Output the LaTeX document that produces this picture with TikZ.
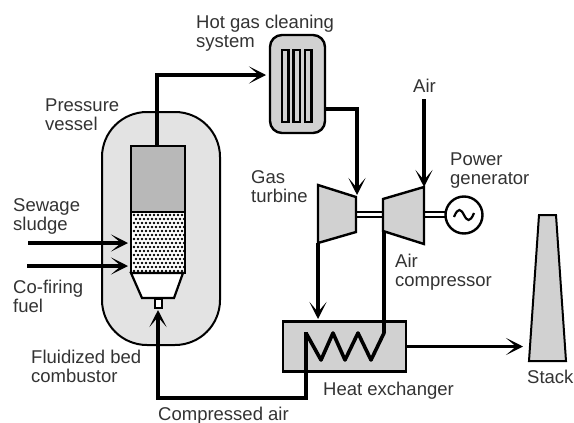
\documentclass[tikz,border=0pt]{standalone}
\usepackage{fontspec}
\setmainfont{Liberation Sans}
\usepackage{tikz}
\usetikzlibrary{arrows.meta}
\definecolor{vesselgray}{gray}{0.89}
\definecolor{unitgray}{gray}{0.82}
\definecolor{freegray}{gray}{0.72}
\definecolor{inkgray}{gray}{0.2}
\tikzset{
    pipe/.style={line width=3.6pt,black,line join=miter},
    flow/.style={pipe,-{Stealth[length=17pt,width=17pt,inset=10pt]}},
    unit/.style={line width=2.4pt,draw=black,fill=unitgray},
    label/.style={font=\fontsize{18.5}{19}\selectfont,text=inkgray,align=left,inner sep=0pt,anchor=north west}
}
\begin{document}
\begin{tikzpicture}[x=1pt,y=-1pt]
\useasboundingbox[fill=white] (0,0) rectangle (574,423);
% pressure vessel and combustor
\draw[line width=2pt,fill=vesselgray,rounded corners=45pt] (102,112) rectangle (220,345);
\draw[line width=2.2pt,fill=freegray] (131,146) rectangle (185,212);
\draw[line width=2.2pt,fill=white] (131,212) rectangle (185,273);
\foreach \j in {0,...,14}
{
    \foreach \i in {0,...,12}
    {
        \pgfmathsetmacro{\xdot}{134+4*\i+2*mod(\j,2)}
        \pgfmathsetmacro{\ydot}{215+4*\j}
        \fill (\xdot,\ydot) circle (1.4);
    }
}
\draw[line width=2.2pt,fill=white] (131,273) -- (183,273) -- (174,298) -- (142,298) -- cycle;
\draw[line width=1.6pt,fill=white] (155,299) rectangle (162,308);
\draw[line width=2.2pt] (131,212) rectangle (185,273);
% hot gas cleaning
\draw[unit,rounded corners=12pt] (270,35) rectangle (325,133);
\foreach \i in {282,293.5,305}
{
    \draw[line width=2.2pt] (\i,50) rectangle ++(6.5,72);
}
% turbine, compressor, generator
\draw[unit] (318,185) -- (356,197) -- (356,232) -- (318,243) -- cycle;
\draw[unit] (383,199) -- (424,187) -- (424,244) -- (383,231) -- cycle;
\draw[line width=1.8pt] (356,212) -- (383,212) (356,217) -- (383,217);
\draw[line width=1.8pt] (424,212) -- (445,212) (424,217) -- (445,217);
\node[circle,draw,line width=2.4pt,fill=white,minimum size=37pt,inner sep=0pt] (generator) at (464,215) {};
\draw[line width=2.2pt] (454,217) .. controls (458,207) and (461,209) .. (464,215) .. controls (467,221) and (470,223) .. (474,213);
% heat exchanger
\node[unit,minimum width=123pt,minimum height=50pt,inner sep=0pt] (exchanger) at (344.5,346.5) {};
% stack
\draw[line width=2pt,fill=unitgray] (539,215) -- (556,215) -- (566,361) -- (529,361) -- cycle;
% flows
\draw[flow] (28,243) -- (128,243);
\draw[flow] (27,266) -- (128,266);
\draw[flow] (157,146) -- (157,75) -- (266,75);
\draw[flow] (325,109) -- (357,109) -- (357,195);
\draw[flow] (424,99) -- (424,187);
\draw[flow] (318,243) -- (318,319);
\draw[pipe,line join=round] (384,231) -- (384,333) -- (371,360) -- (358,333) -- (345,360) -- (333,333) -- (321,360) -- (306,333);
\draw[flow] (306,332) -- (306,398) -- (158,398) -- (158,310);
\draw[flow] (exchanger.east) -- (523,346.5);
% labels
\node[label] (cleaninglabel) at (196,15) {Hot gas cleaning\\system};
\node[label] (vessellabel) at (45,98.5) {Pressure\\vessel};
\node[label] (airlabel) at (413,78.5) {Air};
\node[label] (powerlabel) at (450,152.5) {Power\\generator};
\node[label] (turbinelabel) at (251,170.5) {Gas\\turbine};
\node[label] (sludgelabel) at (13,198.5) {Sewage\\sludge};
\node[label] (compressorlabel) at (395,253.5) {Air\\compressor};
\node[label] (fuellabel) at (13,279.5) {Co-firing\\fuel};
\node[label] (stacklabel) at (527,369.5) {Stack};
\node[label] (bedlabel) at (31,349.5) {Fluidized bed\\combustor};
\node[label] (exchangerlabel) at (323,381.5) {Heat exchanger};
\node[label] (airlinelabel) at (158,406.5) {Compressed air};
\end{tikzpicture}
\end{document}
